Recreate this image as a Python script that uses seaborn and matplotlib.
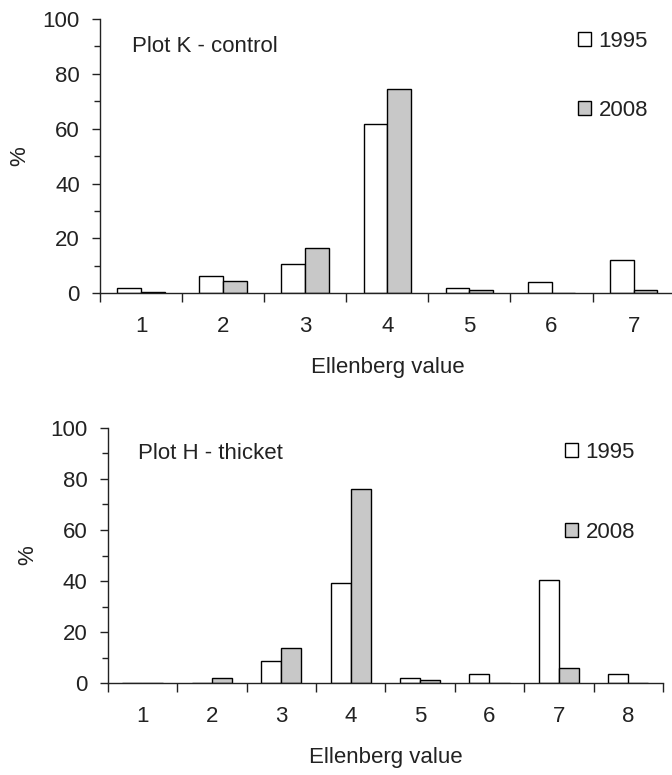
import numpy as np
import pandas as pd
import matplotlib
matplotlib.use("Agg")
import matplotlib.pyplot as plt
from matplotlib.patches import Patch
import seaborn as sns

# Ellenberg value distributions (% of species)
years = ["1995", "2008"]

k_values = ["1", "2", "3", "4", "5", "6", "7"]
k_1995 = [1.9, 6.5, 10.7, 61.8, 1.9, 4.0, 12.1]
k_2008 = [0.6, 4.5, 16.7, 74.5, 1.2, 0.0, 1.2]

h_values = ["1", "2", "3", "4", "5", "6", "7", "8"]
h_1995 = [0.0, 0.0, 8.6, 39.2, 2.1, 3.7, 40.5, 3.7]
h_2008 = [0.0, 2.1, 13.7, 76.1, 1.4, 0.0, 5.8, 0.0]

sns.set_style("ticks")
plt.rcParams["font.family"] = ["Liberation Sans", "DejaVu Sans"]
plt.rcParams["font.size"] = 16
text_col = "#222222"
grey = "#c8c8c8"
palette = {"1995": "white", "2008": grey}
fs = 16


def long_table(cats, a, b):
    return pd.DataFrame({
        "value": cats + cats,
        "year": [years[0]] * len(cats) + [years[1]] * len(cats),
        "pct": a + b,
    })


def draw_panel(ax, cats, a, b, title, leg_anchor, leg_space, ypad):
    df = long_table(cats, a, b)
    sns.barplot(data=df, x="value", y="pct", hue="year", order=cats,
                hue_order=years, palette=palette, edgecolor="black",
                linewidth=1.0, width=0.58, gap=0, ax=ax, legend=False)
    n = len(cats)
    ax.set_xlim(-0.5, n - 0.5)
    ax.set_ylim(0, 100)
    # ticks at category boundaries, labels at centres
    ax.set_xticks(np.arange(n + 1) - 0.5)
    ax.set_xticklabels([])
    ax.set_xticks(np.arange(n), minor=True)
    ax.set_xticklabels(cats, minor=True, color=text_col, fontsize=fs)
    ax.tick_params(axis="x", which="major", direction="out", length=6.5,
                   width=1.0, color=text_col)
    ax.tick_params(axis="x", which="minor", length=0, pad=16)
    ax.set_yticks(np.arange(0, 101, 20))
    ax.set_yticks(np.arange(0, 101, 10), minor=True)
    ax.tick_params(axis="y", which="major", direction="out", length=5.5,
                   width=1.0, color=text_col, labelcolor=text_col,
                   labelsize=fs, pad=9)
    ax.tick_params(axis="y", which="minor", direction="out", length=4,
                   width=1.0, color=text_col)
    for side in ["top", "right"]:
        ax.spines[side].set_visible(False)
    for side in ["left", "bottom"]:
        ax.spines[side].set_linewidth(1.0)
        ax.spines[side].set_color(text_col)
    ax.set_xlabel("Ellenberg value", color=text_col, fontsize=fs, labelpad=15)
    ax.set_ylabel("%", color=text_col, fontsize=fs, labelpad=ypad)
    ax.text(0.055, 0.9, title, transform=ax.transAxes, color=text_col,
            fontsize=fs, va="center", ha="left")
    handles = [Patch(facecolor=palette[y], edgecolor="black", linewidth=1.0)
               for y in years]
    ax.legend(handles, years, loc="upper left", bbox_to_anchor=leg_anchor,
              bbox_transform=fig.transFigure, frameon=False, fontsize=fs,
              handlelength=0.58, handleheight=0.58, handletextpad=0.35,
              labelspacing=leg_space, borderpad=0, borderaxespad=0,
              labelcolor=text_col)


fig = plt.figure(figsize=(6.72, 7.75), dpi=100)
ax_top = fig.add_axes([0.1488, 0.6215, 0.8552, 0.3539])
ax_bot = fig.add_axes([0.1603, 0.1183, 0.8263, 0.3298])

draw_panel(ax_top, k_values, k_1995, k_2008, "Plot K - control",
           (578 / 672, 1 - 31 / 775), 2.15, 9)
draw_panel(ax_bot, h_values, h_1995, h_2008, "Plot H - thicket",
           (565 / 672, 1 - 442 / 775), 2.65, 9)

fig.savefig("out.png", dpi=100)
